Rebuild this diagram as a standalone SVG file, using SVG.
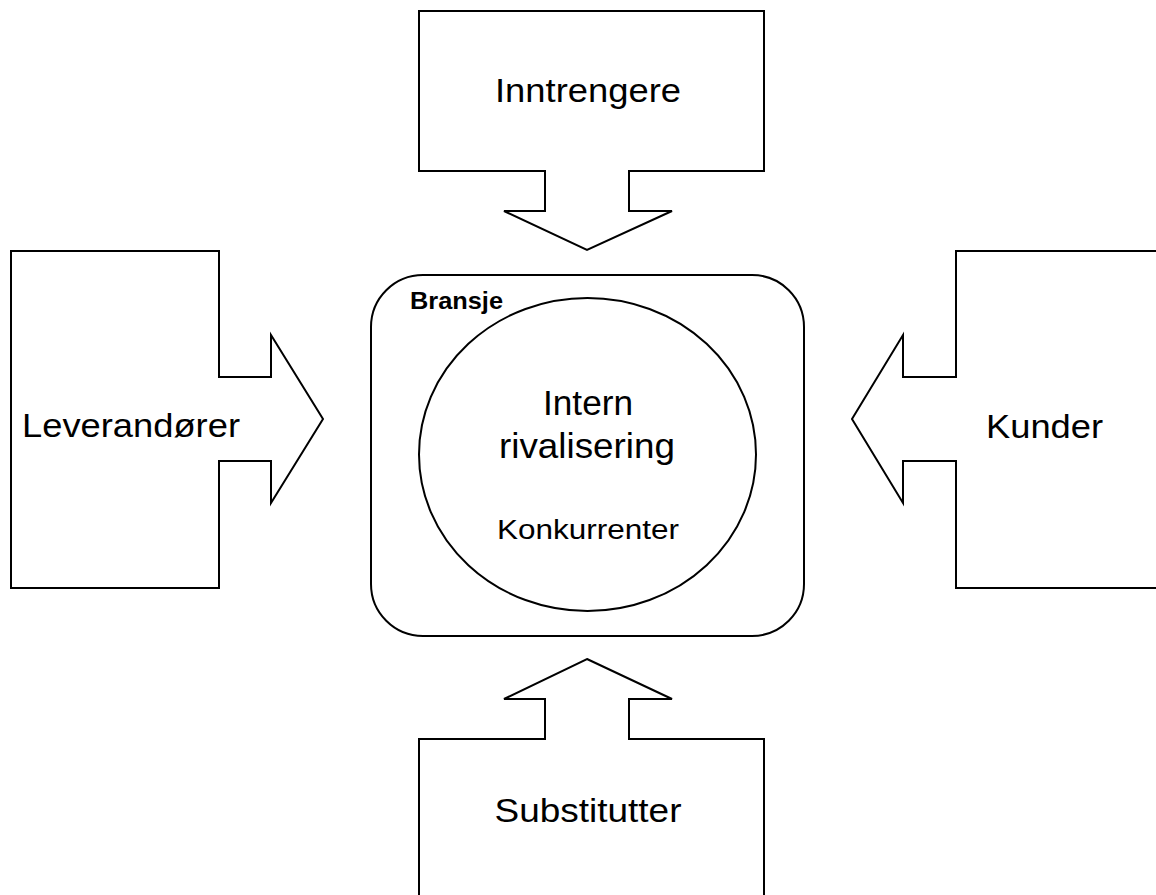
<svg xmlns="http://www.w3.org/2000/svg" width="1156" height="895" viewBox="0 0 1156 895">
  <style>
    .shape { fill: #ffffff; stroke: #000000; stroke-width: 2; stroke-linejoin: miter; }
    .lbl { font-family: "Liberation Sans", Arial, sans-serif; fill: #000000; }
    .big { font-size: 34px; }
    .mid { font-size: 35px; }
    .small { font-size: 27px; }
    .bold { font-size: 24px; font-weight: bold; }
  </style>
  <rect width="1156" height="895" fill="#ffffff"/>

  <!-- New entrants: block arrow pointing down -->
  <g id="inntrengere">
    <polygon class="shape" points="419,11 764,11 764,171 629,171 629,211 672,211 587,250 504,211 545,211 545,171 419,171"/>
    <text class="lbl big" x="588" y="102" text-anchor="middle" textLength="186" lengthAdjust="spacingAndGlyphs">Inntrengere</text>
  </g>

  <!-- Suppliers: block arrow pointing right -->
  <g id="leverandorer">
    <polygon class="shape" points="11,251 219,251 219,377 271,377 271,335 323,419 271,503 271,461 219,461 219,588 11,588"/>
    <text class="lbl big" x="22" y="437" textLength="218" lengthAdjust="spacingAndGlyphs">Leverandører</text>
  </g>

  <!-- Customers: block arrow pointing left -->
  <g id="kunder">
    <polygon class="shape" points="1170,251 956,251 956,377 903,377 903,335 852,419 903,503 903,461 956,461 956,588 1170,588"/>
    <text class="lbl big" x="986" y="438" textLength="117" lengthAdjust="spacingAndGlyphs">Kunder</text>
  </g>

  <!-- Substitutes: block arrow pointing up -->
  <g id="substitutter">
    <polygon class="shape" points="587,659 672,699 629,699 629,739 764,739 764,910 419,910 419,739 545,739 545,699 504,699"/>
    <text class="lbl big" x="588" y="822" text-anchor="middle" textLength="187" lengthAdjust="spacingAndGlyphs">Substitutter</text>
  </g>

  <!-- Industry frame with the rivalry circle -->
  <g id="bransje">
    <rect class="shape" x="371" y="275" width="433" height="361" rx="52" ry="52"/>
    <text class="lbl bold" x="410" y="309" textLength="93" lengthAdjust="spacingAndGlyphs">Bransje</text>
  </g>

  <g id="intern-rivalisering">
    <ellipse class="shape" cx="587.5" cy="454.5" rx="168.5" ry="156.5"/>
    <text class="lbl mid" x="588" y="415" text-anchor="middle" textLength="90" lengthAdjust="spacingAndGlyphs">Intern</text>
    <text class="lbl mid" x="587" y="458" text-anchor="middle" textLength="176" lengthAdjust="spacingAndGlyphs">rivalisering</text>
    <text class="lbl small" x="588" y="539" text-anchor="middle" textLength="182" lengthAdjust="spacingAndGlyphs">Konkurrenter</text>
  </g>

  <g id="connectors"></g>
</svg>
